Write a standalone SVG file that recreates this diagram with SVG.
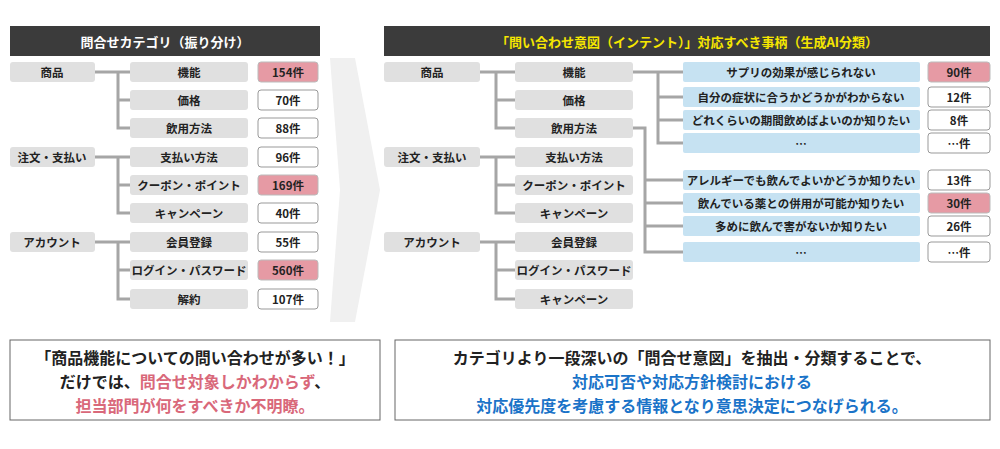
<svg xmlns="http://www.w3.org/2000/svg" width="1000" height="449" viewBox="0 0 1000 449">
<style>
text{font-family:"Noto Sans CJK JP","Noto Sans",sans-serif;font-weight:bold;font-size:11.5px;text-anchor:middle;dominant-baseline:central;fill:#222}
.g{fill:#e0e0e0}
.w{fill:#fff;stroke:#999;stroke-width:1}
.p{fill:#e69aa4;stroke:#bbb;stroke-width:1}
.b{fill:#c6e2f2}
.h{fill:#3b3b3b}
.c{fill:none;stroke:#a6a6a6;stroke-width:3}
.bt{font-size:16px}
</style>
<rect width="1000" height="449" fill="#fff"/>
<polygon points="330,58 355,58 380,190 355,322 330,322 340,190" fill="#f0f0f0"/>
<g id="headers">
<rect class="h" x="10" y="26" width="310" height="30"/>
<text x="165" y="41" style="fill:#fff;font-size:13px">問合せカテゴリ（振り分け）</text>
<rect class="h" x="384" y="26" width="606" height="30"/>
<text x="687" y="41" style="fill:#f5e600;font-size:13px">「問い合わせ意図（インテント）」対応すべき事柄（生成AI分類）</text>
</g>
<g id="connectors">
<path class="c" d="M95,72H130M118,72V128H130M118,100H130"/>
<path class="c" d="M95,157H130M118,157V213H130M118,185H130"/>
<path class="c" d="M95,242H130M118,242V299H130M118,270H130"/>
<path class="c" d="M480,72H515M496,72V128H515M496,100H515"/>
<path class="c" d="M480,157H515M496,157V213H515M496,185H515"/>
<path class="c" d="M480,242H515M496,242V299H515M496,270H515"/>
<path class="c" d="M633,72H683M658,72V143H683M658,97H683M658,120H683"/>
<path class="c" d="M633,128H645V252H683M645,180H683M645,203H683M645,226H683"/>
</g>
<g id="left">
<rect class="g" x="10" y="62" width="85" height="20" rx="3"/><text x="52" y="72">商品</text>
<rect class="g" x="10" y="147" width="85" height="20" rx="3"/><text x="52" y="157">注文・支払い</text>
<rect class="g" x="10" y="232" width="85" height="20" rx="3"/><text x="52" y="242">アカウント</text>
<rect class="g" x="130" y="62" width="118" height="20" rx="3"/><text x="189" y="72">機能</text>
<rect class="g" x="130" y="90" width="118" height="20" rx="3"/><text x="189" y="100">価格</text>
<rect class="g" x="130" y="118" width="118" height="20" rx="3"/><text x="189" y="128">飲用方法</text>
<rect class="g" x="130" y="147" width="118" height="20" rx="3"/><text x="189" y="157">支払い方法</text>
<rect class="g" x="130" y="175" width="118" height="20" rx="3"/><text x="189" y="185">クーポン・ポイント</text>
<rect class="g" x="130" y="203" width="118" height="20" rx="3"/><text x="189" y="213">キャンペーン</text>
<rect class="g" x="130" y="232" width="118" height="20" rx="3"/><text x="189" y="242">会員登録</text>
<rect class="g" x="130" y="260" width="118" height="20" rx="3"/><text x="189" y="270">ログイン・パスワード</text>
<rect class="g" x="130" y="289" width="118" height="20" rx="3"/><text x="189" y="299">解約</text>
<rect class="p" x="258" y="62" width="60" height="20" rx="3"/><text x="288" y="72">154件</text>
<rect class="w" x="258" y="90" width="60" height="20" rx="3"/><text x="288" y="100">70件</text>
<rect class="w" x="258" y="118" width="60" height="20" rx="3"/><text x="288" y="128">88件</text>
<rect class="w" x="258" y="147" width="60" height="20" rx="3"/><text x="288" y="157">96件</text>
<rect class="p" x="258" y="175" width="60" height="20" rx="3"/><text x="288" y="185">169件</text>
<rect class="w" x="258" y="203" width="60" height="20" rx="3"/><text x="288" y="213">40件</text>
<rect class="w" x="258" y="232" width="60" height="20" rx="3"/><text x="288" y="242">55件</text>
<rect class="p" x="258" y="260" width="60" height="20" rx="3"/><text x="288" y="270">560件</text>
<rect class="w" x="258" y="289" width="60" height="20" rx="3"/><text x="288" y="299">107件</text>
</g>
<g id="right">
<rect class="g" x="384" y="62" width="96" height="20" rx="3"/><text x="432" y="72">商品</text>
<rect class="g" x="384" y="147" width="96" height="20" rx="3"/><text x="432" y="157">注文・支払い</text>
<rect class="g" x="384" y="232" width="96" height="20" rx="3"/><text x="432" y="242">アカウント</text>
<rect class="g" x="515" y="62" width="118" height="20" rx="3"/><text x="574" y="72">機能</text>
<rect class="g" x="515" y="90" width="118" height="20" rx="3"/><text x="574" y="100">価格</text>
<rect class="g" x="515" y="118" width="118" height="20" rx="3"/><text x="574" y="128">飲用方法</text>
<rect class="g" x="515" y="147" width="118" height="20" rx="3"/><text x="574" y="157">支払い方法</text>
<rect class="g" x="515" y="175" width="118" height="20" rx="3"/><text x="574" y="185">クーポン・ポイント</text>
<rect class="g" x="515" y="203" width="118" height="20" rx="3"/><text x="574" y="213">キャンペーン</text>
<rect class="g" x="515" y="232" width="118" height="20" rx="3"/><text x="574" y="242">会員登録</text>
<rect class="g" x="515" y="260" width="118" height="20" rx="3"/><text x="574" y="270">ログイン・パスワード</text>
<rect class="g" x="515" y="289" width="118" height="20" rx="3"/><text x="574" y="299">キャンペーン</text>
<rect class="b" x="683" y="62" width="237" height="20" rx="2"/><text x="801" y="72">サプリの効果が感じられない</text>
<rect class="b" x="683" y="87" width="237" height="20" rx="2"/><text x="801" y="97">自分の症状に合うかどうかがわからない</text>
<rect class="b" x="683" y="110" width="237" height="20" rx="2"/><text x="801" y="120">どれくらいの期間飲めばよいのか知りたい</text>
<rect class="b" x="683" y="133" width="237" height="20" rx="2"/><text x="801" y="143">…</text>
<rect class="b" x="683" y="170" width="237" height="20" rx="2"/><text x="801" y="180">アレルギーでも飲んでよいかどうか知りたい</text>
<rect class="b" x="683" y="193" width="237" height="20" rx="2"/><text x="801" y="203">飲んでいる薬との併用が可能か知りたい</text>
<rect class="b" x="683" y="216" width="237" height="20" rx="2"/><text x="801" y="226">多めに飲んで害がないか知りたい</text>
<rect class="b" x="683" y="242" width="237" height="20" rx="2"/><text x="801" y="252">…</text>
<rect class="p" x="928" y="62" width="62" height="20" rx="3"/><text x="959" y="72">90件</text>
<rect class="w" x="928" y="87" width="62" height="20" rx="3"/><text x="959" y="97">12件</text>
<rect class="w" x="928" y="110" width="62" height="20" rx="3"/><text x="959" y="120">8件</text>
<rect class="w" x="928" y="133" width="62" height="20" rx="3"/><text x="959" y="143">…件</text>
<rect class="w" x="928" y="170" width="62" height="20" rx="3"/><text x="959" y="180">13件</text>
<rect class="p" x="928" y="193" width="62" height="20" rx="3"/><text x="959" y="203">30件</text>
<rect class="w" x="928" y="216" width="62" height="20" rx="3"/><text x="959" y="226">26件</text>
<rect class="w" x="928" y="242" width="62" height="20" rx="3"/><text x="959" y="252">…件</text>
</g>
<g id="notes">
<rect x="10" y="340" width="370" height="80" fill="#fff" stroke="#666"/>
<text class="bt" x="195" y="357">「商品機能についての問い合わせが多い！」</text>
<text class="bt" x="195" y="381">だけでは、<tspan style="fill:#d9687a">問合せ対象しかわからず</tspan>、</text>
<text class="bt" x="195" y="405" style="fill:#d9687a">担当部門が何をすべきか不明瞭。</text>
<rect x="395" y="340" width="595" height="80" fill="#fff" stroke="#666"/>
<text class="bt" x="692" y="357">カテゴリより一段深いの「問合せ意図」を抽出・分類することで、</text>
<text class="bt" x="692" y="381" style="fill:#1a73c8">対応可否や対応方針検討における</text>
<text class="bt" x="692" y="405" style="fill:#1a73c8">対応優先度を考慮する情報となり意思決定につなげられる。</text>
</g>
</svg>
